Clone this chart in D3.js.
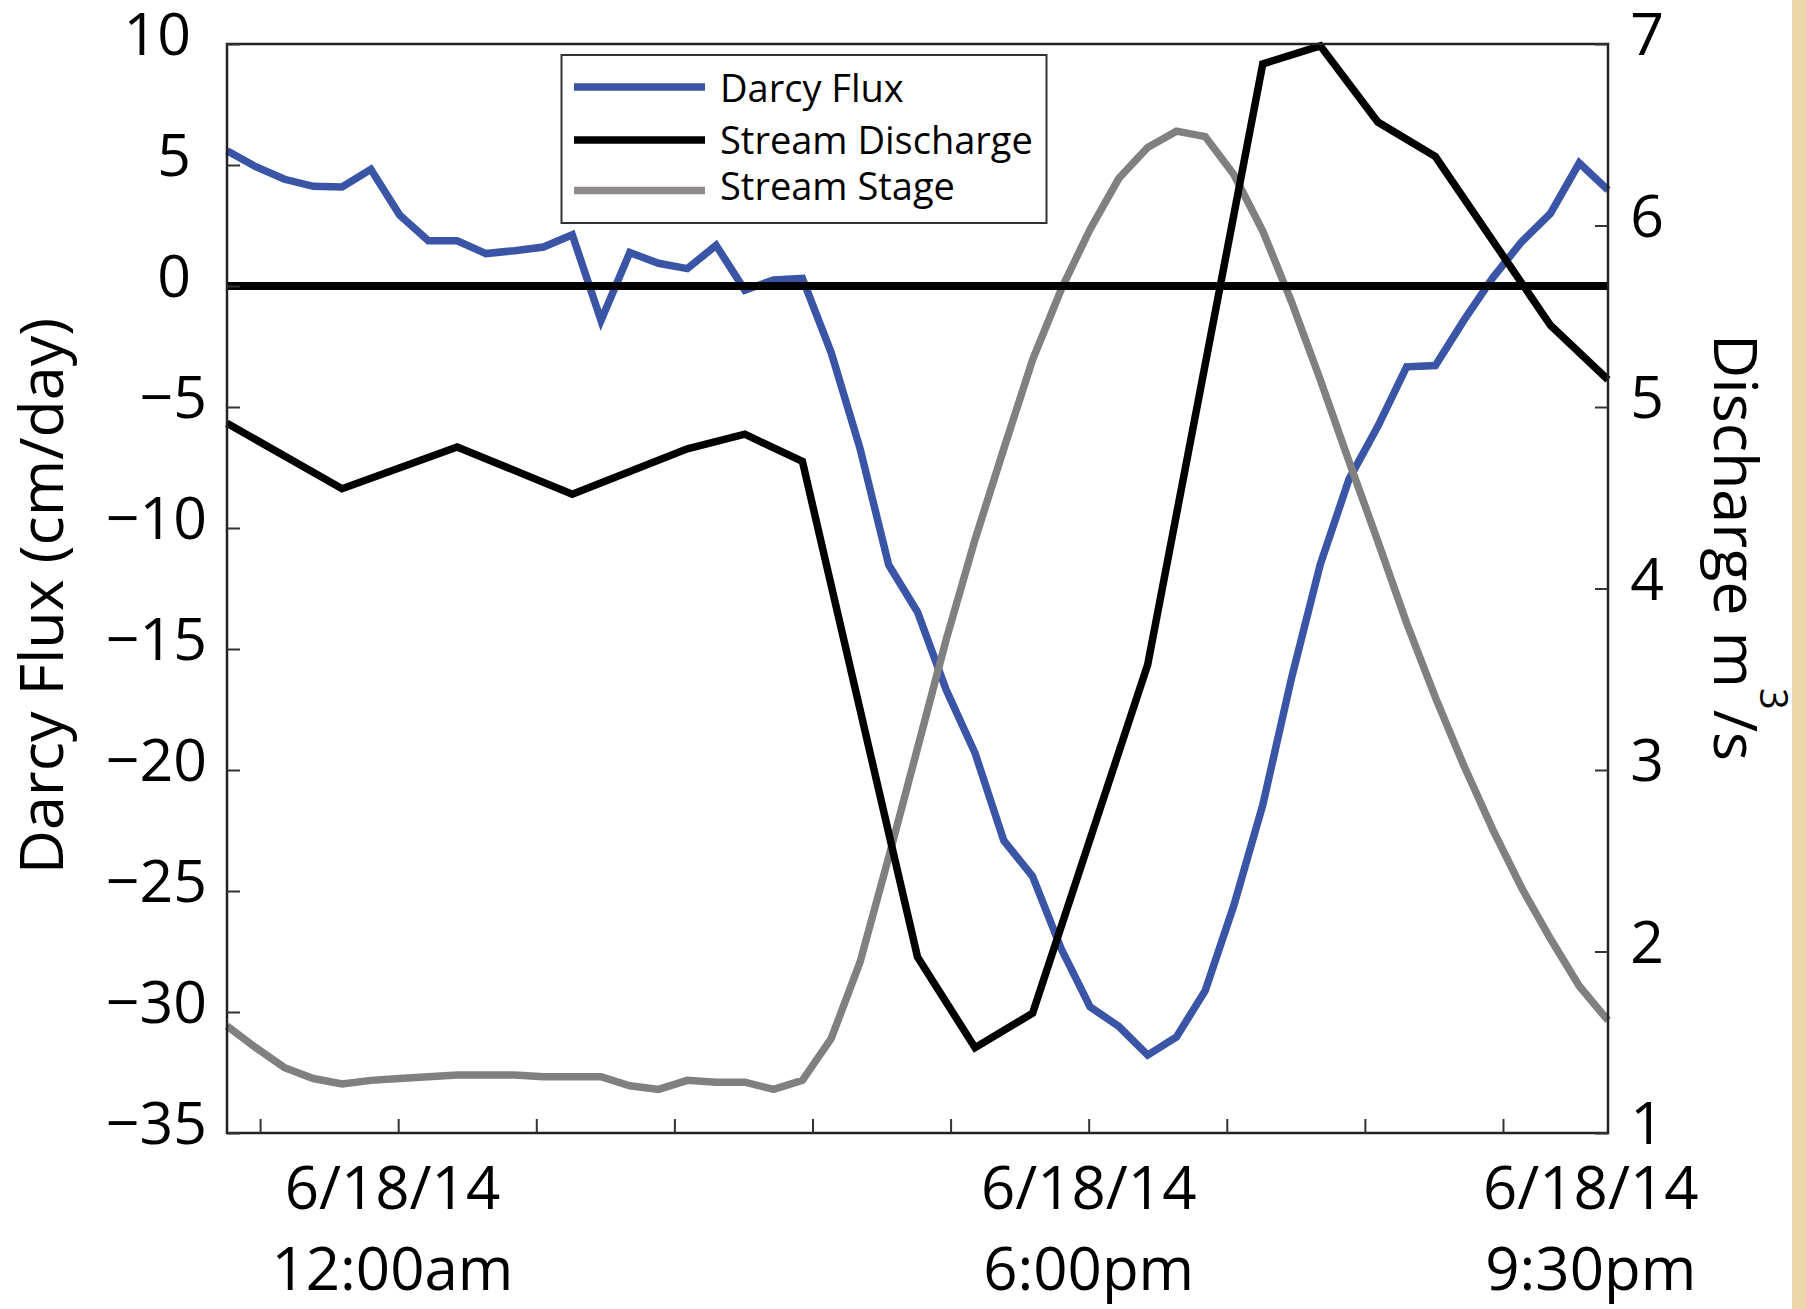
<!DOCTYPE html>
<html>
<head>
<meta charset="utf-8">
<script src="https://cdn.jsdelivr.net/npm/d3@7"></script>
<style>
  html, body { margin: 0; padding: 0; background: #ffffff; }
  svg { display: block; }
  text { font-family: "Open Sans", "Noto Sans", sans-serif; fill: #000; }
</style>
</head>
<body>
<svg id="chart" width="1806" height="1309"></svg>
<script>
// Sample number along the record (one sample per step)
const samples = [0, 1, 2, 3, 4, 5, 6, 7, 8, 9, 10, 11, 12, 13, 14, 15, 16, 17, 18, 19,
  20, 21, 22, 23, 24, 25, 26, 27, 28, 29, 30, 31, 32, 33, 34, 35, 36, 37, 38, 39,
  40, 41, 42, 43, 44, 45, 46, 47, 48];

// Darcy flux, cm/day (left axis)
const darcyFlux = [5.59, 4.93, 4.41, 4.12, 4.09, 4.82, 2.93, 1.87, 1.87, 1.34,
  1.46, 1.61, 2.12, -1.42, 1.38, 0.94, 0.72, 1.68, -0.17, 0.25,
  0.31, -2.75, -6.7, -11.53, -13.47, -16.7, -19.3, -22.92, -24.4, -27.4,
  -29.79, -30.6, -31.78, -31.03, -29.12, -25.58, -21.45, -16.2, -11.5, -7.98,
  -5.8, -3.34, -3.29, -1.4, 0.35, 1.83, 3.0, 5.08, 3.97];

// Stream discharge, m^3/s (right axis), measured at fewer samples
const dischargeAt = [0, 4, 8, 12, 16, 18, 20, 24, 26, 28, 32, 36, 38, 40, 42, 46, 48];
const discharge = [4.91, 4.55, 4.78, 4.52, 4.77, 4.85, 4.70, 1.97, 1.47, 1.66,
  3.58, 6.89, 6.99, 6.57, 6.38, 5.45, 5.15];

// Stream stage, drawn against the right axis
const stage = [1.59, 1.47, 1.36, 1.30, 1.27, 1.29, 1.30, 1.31, 1.32, 1.32,
  1.32, 1.31, 1.31, 1.31, 1.26, 1.24, 1.29, 1.28, 1.28, 1.24,
  1.29, 1.52, 1.94, 2.52, 3.12, 3.72, 4.27, 4.77, 5.26, 5.65,
  5.98, 6.26, 6.43, 6.52, 6.49, 6.28, 5.97, 5.58, 5.15, 4.70,
  4.26, 3.81, 3.40, 3.02, 2.67, 2.35, 2.07, 1.81, 1.62];

// Axis ticks and labels
const fluxTicks = [10, 5, 0, -5, -10, -15, -20, -25, -30, -35];
const dischargeTicks = [1, 2, 3, 4, 5, 6, 7];
const timeTicks = [1.15, 5.95, 10.75, 15.55, 20.35, 25.15, 29.95, 34.75, 39.55, 44.35];
const timeLabelAt = [5.75, 29.95, 47.4];
const timeLabelDate = ["6/18/14", "6/18/14", "6/18/14"];
const timeLabelTime = ["12:00am", "6:00pm", "9:30pm"];

const seriesNames = ["Darcy Flux", "Stream Discharge", "Stream Stage"];
const seriesColors = ["#3a54a6", "#000000", "#808080"];
const legendColors = ["#3a54a6", "#000000", "#8f8b8b"];

const svg = d3.select("#chart");

const plot = { left: 227, right: 1608, top: 44, bottom: 1133 };

const x = d3.scaleLinear().domain([0, 48]).range([plot.left, plot.right]);
const yFlux = d3.scaleLinear().domain([-35, 10]).range([plot.bottom, plot.top]);
const yQ = d3.scaleLinear().domain([1, 7]).range([plot.bottom, plot.top]);

svg.append("rect").attr("x", 0).attr("y", 0).attr("width", 1806).attr("height", 1309).attr("fill", "#ffffff");

// Tan strip along the right edge
svg.append("rect").attr("x", 1792).attr("y", 0).attr("width", 14).attr("height", 1309).attr("fill", "#e9d6a9");

// Series lines
const fluxLine = d3.line().x((d, i) => x(samples[i])).y(d => yFlux(d));
const qLine = d3.line().x((d, i) => x(dischargeAt[i])).y(d => yQ(d));
const stageLine = d3.line().x((d, i) => x(samples[i])).y(d => yQ(d));

const seriesWidth = 7.5;

svg.append("path").datum(darcyFlux).attr("d", fluxLine)
  .attr("fill", "none").attr("stroke", seriesColors[0]).attr("stroke-width", seriesWidth)
  .attr("stroke-linejoin", "miter").attr("stroke-miterlimit", 3);

svg.append("path").datum(stage).attr("d", stageLine)
  .attr("fill", "none").attr("stroke", seriesColors[2]).attr("stroke-width", seriesWidth)
  .attr("stroke-linejoin", "miter").attr("stroke-miterlimit", 3);

// Zero flux reference line
svg.append("line")
  .attr("x1", x(0)).attr("x2", x(48))
  .attr("y1", yFlux(0)).attr("y2", yFlux(0))
  .attr("stroke", "#000").attr("stroke-width", 8);

svg.append("path").datum(discharge).attr("d", qLine)
  .attr("fill", "none").attr("stroke", seriesColors[1]).attr("stroke-width", seriesWidth)
  .attr("stroke-linejoin", "miter").attr("stroke-miterlimit", 3);

// Plot frame
svg.append("rect")
  .attr("x", plot.left).attr("y", plot.top)
  .attr("width", plot.right - plot.left).attr("height", plot.bottom - plot.top)
  .attr("fill", "none").attr("stroke", "#222").attr("stroke-width", 2.5);

// Left axis
const leftAxis = svg.append("g")
  .attr("transform", `translate(${plot.left},0)`)
  .call(d3.axisLeft(yFlux).tickValues(fluxTicks).tickSize(-13).tickFormat(d3.format("d")));
leftAxis.select(".domain").remove();
leftAxis.selectAll(".tick line").attr("stroke", "#333").attr("stroke-width", 2);
leftAxis.selectAll(".tick text")
  .attr("font-family", '"Open Sans", "Noto Sans", sans-serif')
  .attr("font-size", 59)
  .attr("fill", "#000")
  .attr("text-anchor", "end")
  .attr("x", d => d < 0 ? -20 : -36)
  .attr("y", -8);

// Right axis
const rightAxis = svg.append("g")
  .attr("transform", `translate(${plot.right},0)`)
  .call(d3.axisRight(yQ).tickValues(dischargeTicks).tickSize(-13).tickFormat(d3.format("d")));
rightAxis.select(".domain").remove();
rightAxis.selectAll(".tick line").attr("stroke", "#333").attr("stroke-width", 2);
rightAxis.selectAll(".tick text")
  .attr("font-family", '"Open Sans", "Noto Sans", sans-serif')
  .attr("font-size", 59)
  .attr("fill", "#000")
  .attr("text-anchor", "middle")
  .attr("x", 39)
  .attr("y", -8);

// Bottom axis: inward ticks only
const bottomAxis = svg.append("g")
  .attr("transform", `translate(0,${plot.bottom})`)
  .call(d3.axisBottom(x).tickValues(timeTicks).tickSize(-14).tickFormat(""));
bottomAxis.select(".domain").remove();
bottomAxis.selectAll(".tick line").attr("stroke", "#333").attr("stroke-width", 2);

// Date/time labels under the time axis
const timeLabels = svg.append("g").attr("font-size", 60).attr("text-anchor", "middle");
timeLabelAt.forEach((t, i) => {
  const g = timeLabels.append("text").attr("x", x(t));
  g.append("tspan").attr("x", x(t)).attr("y", 1209).text(timeLabelDate[i]);
  g.append("tspan").attr("x", x(t)).attr("y", 1290).text(timeLabelTime[i]);
});

// Axis titles
svg.append("text")
  .attr("transform", "translate(63,596) rotate(-90)")
  .attr("text-anchor", "middle")
  .attr("font-size", 61)
  .text("Darcy Flux (cm/day)");

const rTitle = svg.append("text")
  .attr("transform", "translate(1714,334) rotate(90)")
  .attr("text-anchor", "start")
  .attr("font-size", 61);
rTitle.append("tspan").text("Discharge m");
rTitle.append("tspan").attr("font-size", 38).attr("dy", -46).text("3");
rTitle.append("tspan").attr("dy", 46).text("/s");

// Legend
const legend = svg.append("g");
legend.append("rect")
  .attr("x", 561.5).attr("y", 55).attr("width", 485).attr("height", 168)
  .attr("fill", "#fff").attr("stroke", "#333").attr("stroke-width", 2);
const legendLineY = [87, 140, 190.5];
const legendTextY = [102, 154, 200];
seriesNames.forEach((name, i) => {
  legend.append("line")
    .attr("x1", 574).attr("x2", 705)
    .attr("y1", legendLineY[i]).attr("y2", legendLineY[i])
    .attr("stroke", legendColors[i]).attr("stroke-width", 7.5);
  legend.append("text")
    .attr("x", 720).attr("y", legendTextY[i])
    .attr("font-size", 38)
    .text(name);
});
</script>
</body>
</html>
